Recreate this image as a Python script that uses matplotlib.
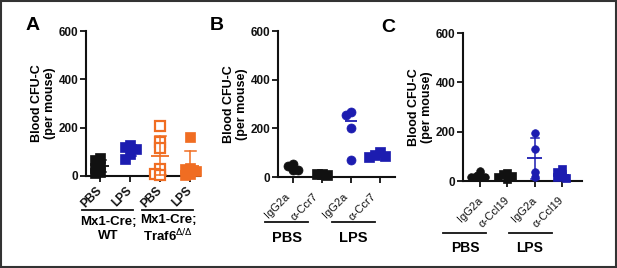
import numpy as np
import matplotlib
matplotlib.use("Agg")
import matplotlib.pyplot as plt
from matplotlib.patches import Rectangle
from matplotlib.lines import Line2D
from matplotlib.transforms import blended_transform_factory, ScaledTranslation

plt.rcParams['font.family'] = ['Liberation Sans', 'DejaVu Sans']

# ---------------- data ----------------
a_labels = ["PBS", "LPS", "PBS", "LPS"]
a_wt_pbs = [75, 65, 42, 35, 15, 12]
a_wt_lps = [128, 122, 112, 92, 72]
a_ko_pbs = [205, 140, 115, 30, 10, 5]
a_ko_lps = [160, 35, 30, 20, 10, 5]
a_groups = ["Mx1-Cre;\nWT", "Mx1-Cre;\nTraf6$^{\\Delta/\\Delta}$"]

b_labels = ["IgG2a", "α-Ccr7", "IgG2a", "α-Ccr7"]
b_pbs_igg = [28, 30, 45, 52]
b_pbs_ccr7 = [8, 12, 12]
b_lps_igg = [255, 268, 203, 68]
b_lps_ccr7 = [82, 85, 92, 102]
b_groups = ["PBS", "LPS"]

c_labels = ["IgG2a", "α-Ccl19", "IgG2a", "α-Ccl19"]
c_pbs_igg = [40, 22, 20, 18, 15]
c_pbs_ccl19 = [32, 28, 20, 15, 10]
c_lps_igg = [193, 128, 35, 15]
c_lps_ccl19 = [48, 35, 20, 15, 12]
c_groups = ["PBS", "LPS"]

yticks = [0, 200, 400, 600]

BLACK = "#111111"
BLUE = "#1c1cb0"
ORANGE = "#f06d22"

W, H = 617, 268
DPI = 100
fig = plt.figure(figsize=(W / DPI, H / DPI), dpi=DPI)


def ax_px(left, right, top, bottom):
    return fig.add_axes([left / W, 1 - bottom / H, (right - left) / W, (bottom - top) / H])


def swarm(ax, vals, msize_px):
    """simple deterministic beeswarm: returns x offsets in data units"""
    vals = np.asarray(vals, float)
    order = np.argsort(vals)[::-1]
    p0 = ax.transData.transform((0, 0))
    p1 = ax.transData.transform((1, 1))
    xs_per_px = 1.0 / (p1[0] - p0[0])
    ys_px = (p1[1] - p0[1])
    placed = []
    offs = np.zeros(len(vals))
    cands = [0, -1, 1, -2, 2, -3, 3]
    for i in order:
        yp = vals[i] * ys_px
        for c in cands:
            xp = c * msize_px * 0.6
            ok = all((xp - px) ** 2 + (yp - py) ** 2 >= (msize_px * 0.6) ** 2 for px, py in placed)
            if ok:
                placed.append((xp, yp))
                offs[i] = xp * xs_per_px
                break
    return offs


def style_axis(ax, xlim, labels, bold_labels, xfs, ldx, ldy):
    ax.set_xlim(*xlim)
    ax.set_ylim(0, 600)
    for s in ["top", "right"]:
        ax.spines[s].set_visible(False)
    for s in ["left", "bottom"]:
        ax.spines[s].set_linewidth(1.5)
        ax.spines[s].set_color("#111111")
    ax.set_yticks(yticks)
    ax.set_yticklabels([str(v) for v in yticks], fontsize=8.5, fontweight="bold")
    ax.set_xticks(range(len(labels)))
    ax.set_xticklabels([])
    ax.tick_params(axis="both", length=4, width=1.3, direction="out", pad=1.5, colors="#111111")
    tr = blended_transform_factory(ax.transData, ax.transAxes) + \
        ScaledTranslation(ldx / DPI, -ldy / DPI, fig.dpi_scale_trans)
    for i, lab in enumerate(labels):
        ax.text(i, 0, lab, transform=tr, rotation=45, ha="right", va="top",
                rotation_mode="default", fontsize=xfs,
                fontweight="bold" if bold_labels else "normal", color="#111111")
    ax.set_ylabel("Blood CFU-C\n(per mouse)", fontsize=9, fontweight="bold", labelpad=2,
                  linespacing=1.05)
    ax.patch.set_alpha(0)


def plot_group(ax, x, vals, color, marker, filled=True, msize=6.5, stat="mean_sd",
               hw=0.3, cw=0.18):
    msize_px = msize * DPI / 72
    offs = swarm(ax, vals, msize_px)
    ax.plot(x + offs, vals, linestyle="none", marker=marker, markersize=msize,
            color=color, markerfacecolor=color if filled else "white",
            markeredgewidth=1.6 if not filled else 0.5, clip_on=False, zorder=3)
    v = np.asarray(vals, float)
    if stat == "median":
        m = np.median(v)
        ax.plot([x - hw, x + hw], [m, m], color=color, lw=1.3, zorder=4, solid_capstyle="butt")
    else:
        m = v.mean()
        sd = v.std(ddof=1)
        lo = max(m - sd, 0)
        ax.plot([x - hw, x + hw], [m, m], color=color, lw=1.3, zorder=4, solid_capstyle="butt")
        ax.plot([x, x], [lo, m + sd], color=color, lw=1.1, zorder=4)
        ax.plot([x - cw, x + cw], [m + sd, m + sd], color=color, lw=1.1, zorder=4)
        ax.plot([x - cw, x + cw], [lo, lo], color=color, lw=1.1, zorder=4)


def fig_line(x0, x1, y):
    fig.add_artist(Line2D([x0 / W, x1 / W], [1 - y / H, 1 - y / H], color="#111111", lw=1.3))


def fig_text(x, y, s, **kw):
    fig.text(x / W, 1 - y / H, s, ha="center", va="center", **kw)


# ---------------- Panel A ----------------
axA = ax_px(86, 200, 31, 176)
style_axis(axA, (-0.47, 3.33), a_labels, True, 8.5, 4, 9)
plot_group(axA, 0, a_wt_pbs, BLACK, "s")
plot_group(axA, 1, a_wt_lps, BLUE, "s")
plot_group(axA, 2, a_ko_pbs, ORANGE, "s", filled=False)
plot_group(axA, 3, a_ko_lps, ORANGE, "s")
fig_line(82, 133, 210)
fig_line(142, 193, 210)
fig_text(108, 229, a_groups[0], fontsize=9.5, fontweight="bold", linespacing=1.15)
fig_text(168, 229, a_groups[1], fontsize=9.5, fontweight="bold", linespacing=1.15)
fig_text(33, 25, "A", fontsize=14, fontweight="bold")

# ---------------- Panel B ----------------
axB = ax_px(278, 395, 31, 177)
style_axis(axB, (-0.52, 3.52), b_labels, False, 8, -2, 14)
plot_group(axB, 0, b_pbs_igg, BLACK, "o", stat="median", hw=0.22)
plot_group(axB, 1, b_pbs_ccr7, BLACK, "s", stat="median", hw=0.22)
plot_group(axB, 2, b_lps_igg, BLUE, "o", stat="median", hw=0.22)
plot_group(axB, 3, b_lps_ccr7, BLUE, "s", stat="median", hw=0.22)
fig_line(265, 308, 222)
fig_line(332, 375, 222)
fig_text(287, 238, b_groups[0], fontsize=10.5, fontweight="bold")
fig_text(353, 238, b_groups[1], fontsize=10.5, fontweight="bold")
fig_text(217, 25, "B", fontsize=14, fontweight="bold")

# ---------------- Panel C ----------------
axC = ax_px(463, 582, 33, 181)
style_axis(axC, (-0.63, 3.74), c_labels, False, 8, 4, 14)
plot_group(axC, 0, c_pbs_igg, BLACK, "o", msize=5.5, hw=0.28, cw=0.15)
plot_group(axC, 1, c_pbs_ccl19, BLACK, "s", msize=5.5, hw=0.28, cw=0.15)
plot_group(axC, 2, c_lps_igg, BLUE, "o", msize=5.5, hw=0.28, cw=0.15)
plot_group(axC, 3, c_lps_ccl19, BLUE, "s", msize=5.5, hw=0.28, cw=0.15)
fig_line(443, 486, 233)
fig_line(509, 552, 233)
fig_text(465, 248, c_groups[0], fontsize=10, fontweight="bold")
fig_text(530, 248, c_groups[1], fontsize=10, fontweight="bold")
fig_text(388, 27, "C", fontsize=14, fontweight="bold")

# outer frame
fig.add_artist(Rectangle((0.002, 0.004), 0.996, 0.992, transform=fig.transFigure,
                         fill=False, edgecolor="#333333", lw=1.5))

fig.savefig("out.png", dpi=DPI)
